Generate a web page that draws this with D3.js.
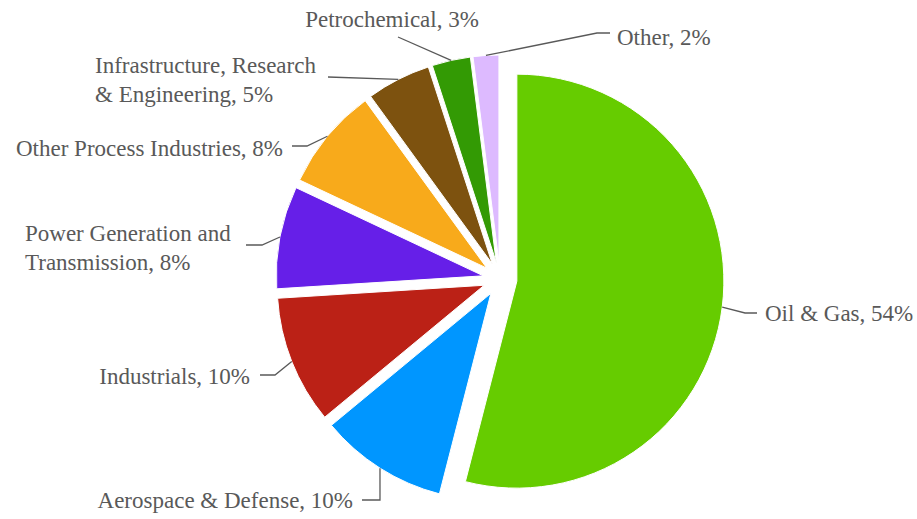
<!DOCTYPE html>
<html>
<head>
<meta charset="utf-8">
<script src="https://cdn.jsdelivr.net/npm/d3@7"></script>
<style>
  body { margin: 0; background: #fff; }
</style>
</head>
<body>
<svg width="917" height="519"></svg>
<script>
// data, clockwise from 12 o'clock
var categories = ["Oil & Gas", "Aerospace & Defense", "Industrials", "Power Generation and Transmission",
                  "Other Process Industries", "Infrastructure, Research & Engineering", "Petrochemical", "Other"];
var shares = [54, 10, 10, 8, 8, 5, 3, 2];
var labelLines = [["Oil & Gas, 54%"], ["Aerospace & Defense, 10%"], ["Industrials, 10%"],
                  ["Power Generation and", "Transmission, 8%"], ["Other Process Industries, 8%"],
                  ["Infrastructure, Research", "& Engineering, 5%"], ["Petrochemical, 3%"], ["Other, 2%"]];
var colors = ["#66cc00", "#0096ff", "#bb2116", "#661fe8", "#f8aa1b", "#7d520f", "#339a04", "#ddbaff"];

// label layout: elbow / end of leader, text anchor point
var layout = [
  {elbow: [745, 313], end: [757, 313], tx: 765, ty: 313, anchor: "start"},
  {elbow: [380, 500], end: [362, 500], tx: 353, ty: 500, anchor: "end"},
  {elbow: [275, 375], end: [260, 375], tx: 250, ty: 376, anchor: "end"},
  {elbow: [262, 245], end: [246, 245], tx: 25, ty: 233, anchor: "start"},
  {elbow: [307, 146], end: [292, 146], tx: 283, ty: 148, anchor: "end"},
  {elbow: null, end: [328, 77], tx: 95, ty: 65, anchor: "start"},
  {elbow: null, end: [398, 37], tx: 392, ty: 19, anchor: "middle"},
  {elbow: [597, 33], end: [610, 33], tx: 617, ty: 37, anchor: "start"}
];

var svg = d3.select("svg"),
    cx = 500, cy = 279, radius = 207, explode = 17, lineH = 29;

var data = categories.map(function(c, i) { return {name: c, value: shares[i], i: i}; });

var pie = d3.pie().sort(null).value(function(d) { return d.value; });
var arc = d3.arc().innerRadius(0).outerRadius(radius);
var edge = d3.arc().innerRadius(radius).outerRadius(radius);

var arcs = pie(data);

function offset(d) {
  var a = (d.startAngle + d.endAngle) / 2;
  return [explode * Math.sin(a), -explode * Math.cos(a)];
}

var g = svg.append("g").attr("transform", "translate(" + cx + "," + cy + ")");

g.selectAll("path.slice")
  .data(arcs)
  .enter().append("path")
    .attr("class", "slice")
    .attr("transform", function(d) { var o = offset(d); return "translate(" + o[0] + "," + o[1] + ")"; })
    .attr("d", arc)
    .attr("fill", function(d) { return colors[d.data.i]; })
    .attr("stroke", "#fff")
    .attr("stroke-width", 1);

// leader lines + labels
arcs.forEach(function(d) {
  var o = offset(d), c = edge.centroid(d), L = layout[d.data.i];
  var pts = [[cx + o[0] + c[0], cy + o[1] + c[1]]];
  if (L.elbow) pts.push(L.elbow);
  pts.push(L.end);
  svg.append("path")
    .attr("d", d3.line()(pts))
    .attr("fill", "none")
    .attr("stroke", "#595959")
    .attr("stroke-width", 1.3);

  var t = svg.append("text")
    .attr("font-family", "'Liberation Serif', 'Times New Roman', serif")
    .attr("font-size", 23)
    .attr("fill", "#595959")
    .attr("text-anchor", L.anchor)
    .attr("x", L.tx)
    .attr("y", L.ty);
  labelLines[d.data.i].forEach(function(s, k) {
    t.append("tspan").attr("x", L.tx).attr("dy", k === 0 ? "0.35em" : lineH).text(s);
  });
});
</script>
</body>
</html>
